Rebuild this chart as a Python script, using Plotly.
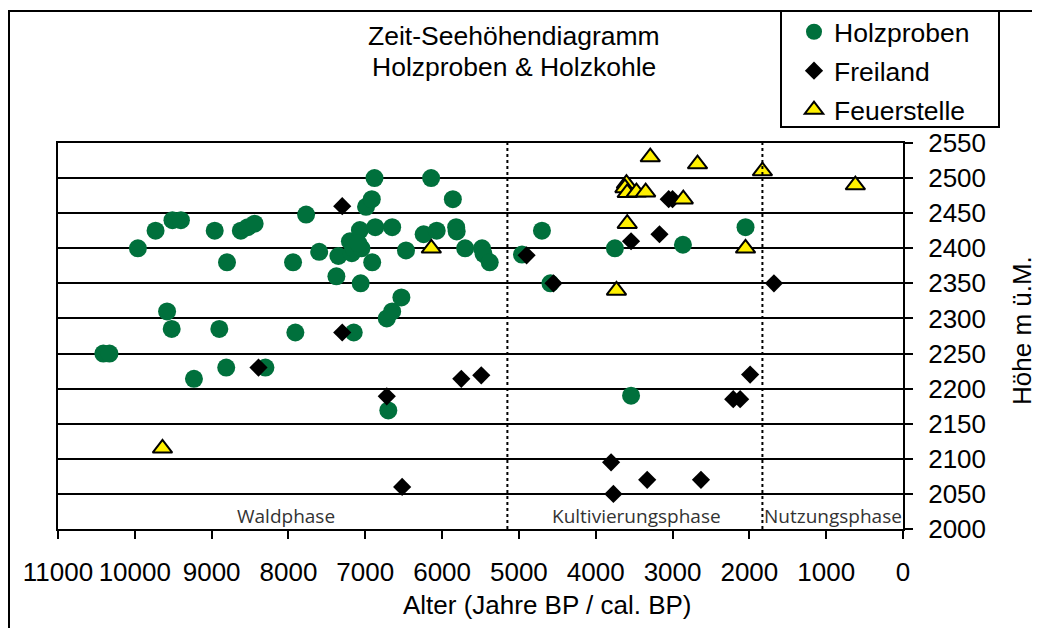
import plotly.graph_objects as go

# ---------------- data ----------------
holz_x = [10410, 10330, 9960, 9730, 9580, 9520, 9510, 9400, 9230, 8960, 8900, 8810, 8800,
          8620, 8530, 8440, 8300, 7940, 7910, 7770, 7600, 7376, 7350, 7200, 7175, 7150,
          7150, 7070, 7060, 7050, 6990, 6915, 6910, 6880, 6870, 6720, 6700, 6650, 6650,
          6530, 6470, 6240, 6143, 6070, 5860, 5817, 5810, 5700, 5480, 5460, 5380, 4960,
          4700, 4590, 3750, 3540, 2865, 2050, 7090]
holz_y = [2250, 2250, 2400, 2425, 2310, 2285, 2440, 2440, 2214, 2425, 2285, 2230, 2380,
          2425, 2430, 2435, 2230, 2380, 2280, 2448, 2395, 2360, 2389, 2410, 2393, 2400,
          2280, 2426, 2350, 2400, 2459, 2470, 2380, 2500, 2430, 2300, 2169, 2310, 2430,
          2330, 2397, 2420, 2500, 2425, 2470, 2430, 2424, 2400, 2400, 2392, 2380, 2391,
          2425, 2350, 2400, 2190, 2405, 2430, 2407]

frei_x = [8390, 7300, 7300, 6720, 6520, 5750, 5490, 4900, 4550, 3800, 3770, 3540, 3330,
          3170, 3050, 3000, 2630, 2210, 2120, 1990, 1680]
frei_y = [2230, 2460, 2280, 2189, 2060, 2214, 2219, 2390, 2350, 2095, 2050, 2410, 2070,
          2420, 2470, 2470, 2070, 2185, 2185, 2220, 2350]

feuer_x = [9640, 6140, 3730, 3600, 3620, 3590, 3470, 3350, 3590, 3290, 2860, 2675, 2050,
           1830, 620]
feuer_y = [2115, 2400, 2340, 2492, 2486, 2479, 2480, 2480, 2435, 2530, 2470, 2520, 2400,
           2510, 2490]

phase_bounds = [5150, 1830]
phase_names = ["Waldphase", "Kultivierungsphase", "Nutzungsphase"]
phase_label_x = [8030, 3470, 910]
phase_label_y = 2019

x_ticks = list(range(0, 11001, 1000))
y_ticks = list(range(2000, 2551, 50))

title_lines = ["Zeit-Seehöhendiagramm", "Holzproben & Holzkohle"]
x_title = "Alter (Jahre BP / cal. BP)"
y_title = "Höhe m ü.M."

# ---------------- figure ----------------
FONT = "Liberation Sans, Arial, sans-serif"
GREEN = "#00703C"
YELLOW = "#FFF000"

fig = go.Figure()
fig.add_trace(go.Scatter(x=holz_x, y=holz_y, mode="markers", name="Holzproben",
                         legendgroup="a",
                         marker=dict(symbol="circle", size=18, color=GREEN)))
fig.add_trace(go.Scatter(x=frei_x, y=frei_y, mode="markers", name="Freiland",
                         legendgroup="b",
                         marker=dict(symbol="diamond", size=14, color="black")))
fig.add_trace(go.Scatter(x=feuer_x, y=feuer_y, mode="markers", name="Feuerstelle",
                         legendgroup="c",
                         marker=dict(symbol="triangle-up", size=17, color=YELLOW,
                                     line=dict(color="black", width=2))))

# page offset (body margin) and plot area geometry in screen pixels
OFF = 8
L, R, T, B = 58 - OFF, 903 - OFF, 143 - OFF, 529 - OFF
W, H = 1040, 628
pw, ph = R - L, B - T


def px_x(px):
    return (px - OFF - L) / pw


def px_y(py):
    return (B - (py - OFF)) / ph


shapes = []
for xb in phase_bounds:
    shapes.append(dict(type="line", xref="x", yref="paper", x0=xb, x1=xb, y0=0, y1=1,
                       line=dict(color="black", width=2, dash="dot"), layer="above"))
# outer chart border
shapes.append(dict(type="rect", xref="paper", yref="paper",
                   x0=px_x(9), x1=px_x(1100), y0=px_y(700), y1=px_y(11),
                   line=dict(color="black", width=2), fillcolor="rgba(0,0,0,0)"))
# legend frame
shapes.append(dict(type="rect", xref="paper", yref="paper",
                   x0=px_x(781), x1=px_x(999), y0=px_y(127), y1=px_y(11),
                   line=dict(color="black", width=2), fillcolor="white", layer="below"))

annotations = []
for name, xv in zip(phase_names, phase_label_x):
    annotations.append(dict(x=xv, y=phase_label_y, xref="x", yref="y", text=name,
                            showarrow=False, xanchor="center", yanchor="middle",
                            font=dict(family="Open Sans, sans-serif", size=19, color="#333333")))
annotations.append(dict(x=px_x(514), y=px_y(36), xref="paper", yref="paper",
                        text=title_lines[0], showarrow=False, xanchor="center",
                        yanchor="middle", font=dict(family=FONT, size=26.5, color="black")))
annotations.append(dict(x=px_x(514), y=px_y(67), xref="paper", yref="paper",
                        text=title_lines[1], showarrow=False, xanchor="center",
                        yanchor="middle", font=dict(family=FONT, size=26.5, color="black")))
annotations.append(dict(x=px_x(547), y=px_y(605), xref="paper", yref="paper",
                        text=x_title, showarrow=False, xanchor="center",
                        yanchor="middle", font=dict(family=FONT, size=26, color="black")))
annotations.append(dict(x=px_x(1022), y=px_y(331), xref="paper", yref="paper",
                        text=y_title, showarrow=False, xanchor="center", textangle=-90,
                        yanchor="middle", font=dict(family=FONT, size=26, color="black")))

fig.update_layout(
    width=W, height=H,
    margin=dict(l=L, r=W - R, t=T, b=H - B, autoexpand=False),
    paper_bgcolor="white", plot_bgcolor="white",
    showlegend=True,
    legend=dict(x=px_x(794), y=px_y(8), xanchor="left", yanchor="top",
                bgcolor="rgba(0,0,0,0)", borderwidth=0,
                font=dict(family=FONT, size=26.5, color="black"),
                traceorder="grouped", tracegroupgap=1.5, itemwidth=30),
    shapes=shapes,
    annotations=annotations,
    xaxis=dict(range=[11000, 0], tickvals=x_ticks, ticktext=[str(v) for v in x_ticks],
               showgrid=False, zeroline=False, showline=True, mirror=True,
               linecolor="black", linewidth=2, ticks="outside", ticklen=8,
               tickwidth=2, tickcolor="black", ticklabelstandoff=11,
               tickfont=dict(family=FONT, size=26, color="black")),
    yaxis=dict(range=[2000, 2550], tickvals=y_ticks, side="right",
               showgrid=True, gridcolor="black", gridwidth=2, zeroline=False,
               showline=True, mirror=True, linecolor="black", linewidth=2,
               ticks="outside", ticklen=8, tickwidth=2, tickcolor="black",
               ticklabelstandoff=10,
               tickfont=dict(family=FONT, size=26, color="black")),
)

fig.write_html("out.html")
